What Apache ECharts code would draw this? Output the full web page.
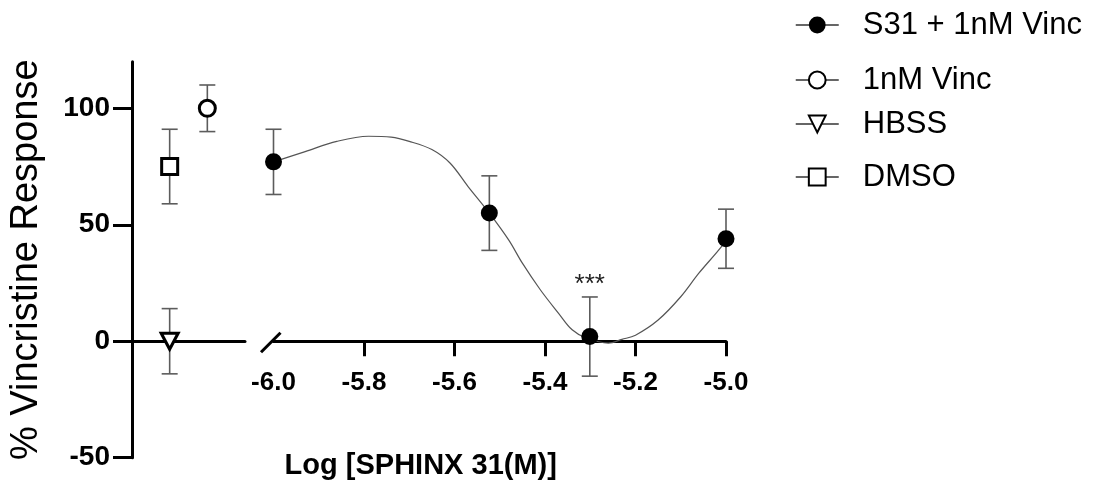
<!DOCTYPE html>
<html>
<head>
<meta charset="utf-8">
<script src="https://cdn.jsdelivr.net/npm/echarts@6/dist/echarts.min.js"></script>
<style>html,body{margin:0;padding:0;background:#fff}#c{width:1104px;height:486px}</style>
</head>
<body>
<div id="c"></div>
<script>
// ---- data ----
const s31LogX = [-6.0, -5.523, -5.301, -5.0];
const s31Mean = [77, 55, 2, 44];
const s31Sem  = [14, 16, 17, 12.7];
const s31Sig  = ['', '', '***', ''];

const ctrlNames = ['1nM Vinc', 'HBSS', 'DMSO'];
const ctrlPos   = [2, 1, 1];
const ctrlMean  = [100, 0, 75];
const ctrlSem   = [10, 14, 16];

const fitX = [-6.0, -5.93, -5.86, -5.79, -5.74, -5.70, -5.65, -5.61, -5.57, -5.523, -5.48, -5.45, -5.41, -5.37, -5.34, -5.31, -5.26, -5.23, -5.20, -5.15, -5.10, -5.06, -5.01, -5.0];
const fitY = [77, 81.4, 85.8, 88.0, 87.6, 85.8, 82.3, 76.5, 66.4, 55, 43.4, 33.5, 22.0, 12.0, 4.9, 1.5, -0.8, 0.8, 2.6, 9.1, 19.1, 29.2, 40.6, 44];

const xTickValues = [-5.8, -5.6, -5.4, -5.2, -5.0];
const yTickValues = [-50, 0, 50, 100];
const yMin = -50, yMax = 120, yInterval = 50;

const legendNames = ['S31 + 1nM Vinc', '1nM Vinc', 'HBSS', 'DMSO'];

// ---- chart ----
const FONT = "'Liberation Sans', Arial, sans-serif";
const chart = echarts.init(document.getElementById('c'), null, {renderer: 'canvas'});

// pixel layout
const plotTop = 61.7, plotBottomPx = 457.7, H = 486;
const pxPerUnit = (plotBottomPx - plotTop) / (yMax - yMin);
const zeroPx = plotTop + (yMax - 0) * pxPerUnit;

function errRender(xs, ms, ss, sig) {
  return function (params, api) {
    const i = params.dataIndex;
    const x = xs[i], m = ms[i], s = ss[i];
    const top = api.coord([x, m + s]);
    const bot = api.coord([x, m - s]);
    const cap = 8;
    const st = {stroke: '#5c5c5c', lineWidth: 1.6};
    const children = [
      {type: 'line', shape: {x1: top[0], y1: top[1], x2: bot[0], y2: bot[1]}, style: st},
      {type: 'line', shape: {x1: top[0] - cap, y1: top[1], x2: top[0] + cap, y2: top[1]}, style: st},
      {type: 'line', shape: {x1: bot[0] - cap, y1: bot[1], x2: bot[0] + cap, y2: bot[1]}, style: st}
    ];
    if (sig && sig[i]) {
      children.push({type: 'text', style: {text: sig[i], x: top[0], y: top[1] + 1, align: 'center', verticalAlign: 'bottom',
        font: "26px " + FONT, fill: '#222'}});
    }
    return {type: 'group', children: children};
  };
}

const symbolStyles = {
  'S31 + 1nM Vinc': {symbol: 'circle', size: 17, rotate: 0, itemStyle: {color: '#000', borderColor: '#000', borderWidth: 0}},
  '1nM Vinc': {symbol: 'circle', size: 16, rotate: 0, itemStyle: {color: '#fff', borderColor: '#000', borderWidth: 3}},
  'HBSS': {symbol: 'triangle', size: [17, 16], rotate: 180, itemStyle: {color: '#fff', borderColor: '#000', borderWidth: 3}},
  'DMSO': {symbol: 'rect', size: 16, rotate: 0, itemStyle: {color: '#fff', borderColor: '#000', borderWidth: 3}}
};

const series = [];
series.push({
  type: 'line', name: 'fit', xAxisIndex: 1, yAxisIndex: 1,
  data: fitX.map((x, i) => [x, fitY[i]]), smooth: 0.35, showSymbol: false, symbol: 'none',
  lineStyle: {color: '#555', width: 1.2}, z: 2, silent: true, clip: false
});
series.push({
  type: 'custom', name: 'err1', xAxisIndex: 1, yAxisIndex: 1, z: 3, clip: false,
  data: s31LogX.map((x, i) => [x, s31Mean[i]]), renderItem: errRender(s31LogX, s31Mean, s31Sem, s31Sig)
});
series.push({
  type: 'custom', name: 'err0', xAxisIndex: 0, yAxisIndex: 0, z: 3, clip: false,
  data: ctrlPos.map((x, i) => [x, ctrlMean[i]]), renderItem: errRender(ctrlPos, ctrlMean, ctrlSem, null)
});
series.push({
  type: 'custom', name: 'brk', xAxisIndex: 1, yAxisIndex: 1, z: 6, clip: false, silent: true,
  data: [[fitX[0], 0]],
  renderItem: function (params, api) {
    const p = api.coord([api.value(0), api.value(1)]);
    return {type: 'line', shape: {x1: p[0] - 12.5, y1: p[1] + 11, x2: p[0] + 7, y2: p[1] - 8.5}, style: {stroke: '#000', lineWidth: 3}};
  }
});
const s31s = symbolStyles['S31 + 1nM Vinc'];
series.push({
  type: 'line', name: 'S31 + 1nM Vinc', xAxisIndex: 1, yAxisIndex: 1, z: 5, clip: false,
  data: s31LogX.map((x, i) => [x, s31Mean[i]]),
  symbol: s31s.symbol, symbolSize: s31s.size, itemStyle: s31s.itemStyle,
  lineStyle: {opacity: 0, width: 0}
});
ctrlNames.forEach((n, i) => {
  const s = symbolStyles[n];
  series.push({
    type: 'line', name: n, xAxisIndex: 0, yAxisIndex: 0, z: 5, clip: false,
    data: [[ctrlPos[i], ctrlMean[i]]],
    symbol: s.symbol, symbolSize: s.size, symbolRotate: s.rotate, itemStyle: s.itemStyle,
    lineStyle: {opacity: 0, width: 0}
  });
});

const legendTops = [9, 64, 108, 161];
const legends = legendNames.map((n, i) => ({
  data: [n], left: 795, top: legendTops[i], orient: 'vertical', padding: 0,
  itemWidth: 43, itemHeight: 21, selectedMode: false,
  lineStyle: {color: '#333', width: 1.5, opacity: 1},
  textStyle: {fontFamily: FONT, fontSize: 31, color: '#000', lineHeight: 32, padding: [0, 0, 0, 19]}
}));

const axisLabelStyle = {fontFamily: FONT, fontWeight: 'bold', color: '#000'};

chart.setOption({
  animation: false,
  backgroundColor: '#fff',
  grid: [
    {left: 132, top: plotTop, width: 113, bottom: H - plotBottomPx, containLabel: false, outerBoundsMode: 'none'},
    {left: 273.5, top: plotTop, width: 452.5, bottom: H - zeroPx, containLabel: false, outerBoundsMode: 'none'}
  ],
  xAxis: [
    {type: 'value', gridIndex: 0, min: 0, max: 3,
      axisLine: {show: true, onZero: true, lineStyle: {color: '#000', width: 3}},
      axisTick: {show: false}, axisLabel: {show: false}, splitLine: {show: false}},
    {type: 'value', gridIndex: 1, min: -6, max: -5, interval: 0.2,
      axisLine: {show: true, onZero: true, lineStyle: {color: '#000', width: 3}},
      axisTick: {show: true, customValues: xTickValues, length: 15, lineStyle: {color: '#000', width: 3}},
      axisLabel: Object.assign({fontSize: 26, margin: 29, formatter: v => Number(v).toFixed(1)}, axisLabelStyle),
      splitLine: {show: false},
      name: 'Log [SPHINX 31(M)]', nameLocation: 'middle', nameGap: 110,
      nameTextStyle: {fontFamily: FONT, fontWeight: 'bold', fontSize: 29, color: '#000', padding: [0, 158, 0, 0]}}
  ],
  yAxis: [
    {type: 'value', gridIndex: 0, min: yMin, max: yMax, interval: yInterval,
      axisLine: {show: true, lineStyle: {color: '#000', width: 3}},
      axisTick: {show: true, customValues: yTickValues, length: 19, lineStyle: {color: '#000', width: 3}},
      axisLabel: Object.assign({fontSize: 28, margin: 22, customValues: yTickValues}, axisLabelStyle),
      splitLine: {show: false},
      name: '% Vincristine Response', nameLocation: 'middle', nameGap: 86, nameRotate: 90,
      nameTextStyle: {fontFamily: FONT, fontSize: 38, color: '#000'}},
    {type: 'value', gridIndex: 1, min: 0, max: yMax, show: false}
  ],
  legend: legends,
  series: series
});
</script>
</body>
</html>
